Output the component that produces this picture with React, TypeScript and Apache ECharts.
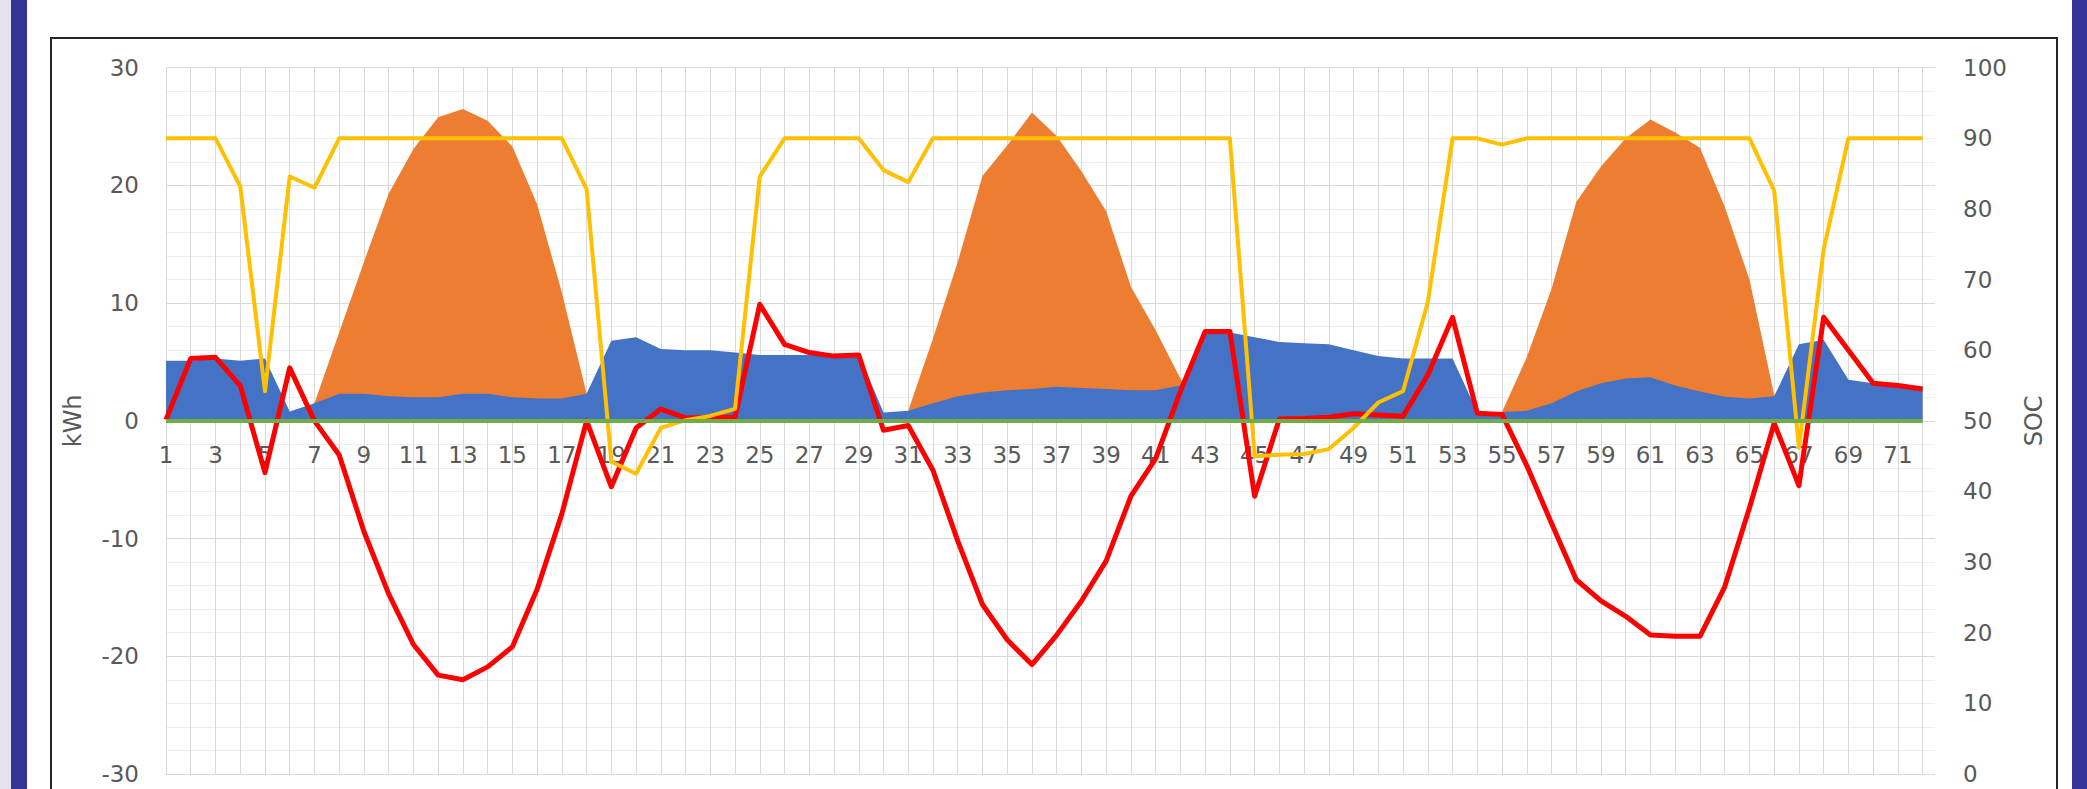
import React, { useEffect, useRef } from "react";
import * as echarts from "echarts";

// categories (hour index)
const hours = [
  1, 2, 3, 4, 5, 6, 7, 8, 9, 10,
  11, 12, 13, 14, 15, 16, 17, 18, 19, 20,
  21, 22, 23, 24, 25, 26, 27, 28, 29, 30,
  31, 32, 33, 34, 35, 36, 37, 38, 39, 40,
  41, 42, 43, 44, 45, 46, 47, 48, 49, 50,
  51, 52, 53, 54, 55, 56, 57, 58, 59, 60,
  61, 62, 63, 64, 65, 66, 67, 68, 69, 70,
  71, 72,
];

// blue area (kWh)
const load = [
  5.1, 5.1, 5.3, 5.1, 5.3, 0.8, 1.5, 2.3, 2.3, 2.1,
  2.0, 2.0, 2.3, 2.3, 2.0, 1.9, 1.9, 2.3, 6.8, 7.1,
  6.1, 6.0, 6.0, 5.8, 5.6, 5.6, 5.6, 5.7, 5.7, 0.7,
  0.85, 1.5, 2.1, 2.4, 2.6, 2.7, 2.9, 2.8, 2.7, 2.6,
  2.6, 3.0, 7.5, 7.5, 7.1, 6.7, 6.6, 6.5, 6.0, 5.5,
  5.3, 5.3, 5.3, 0.75, 0.75, 0.85, 1.5, 2.5, 3.2, 3.6,
  3.7, 3.0, 2.5, 2.05, 1.9, 2.1, 6.5, 6.9, 3.5, 3.2,
  3.1, 2.8,
];

// orange area (kWh)
const pv = [
  0, 0, 0, 0, 0, 0, 1.5, 7.5, 13.5, 19.3,
  23.1, 25.8, 26.5, 25.5, 23.3, 18.4, 10.9, 2.3, 0, 0,
  0, 0, 0, 0, 0, 0, 0, 0, 0, 0,
  0.85, 7.0, 13.5, 20.8, 23.4, 26.2, 24.2, 21.2, 17.8, 11.4,
  7.7, 3.6, 0, 0, 0, 0, 0, 0, 0, 0,
  0, 0, 0, 0, 0.75, 5.4, 11.2, 18.6, 21.6, 24.0,
  25.6, 24.5, 23.2, 18.2, 12.0, 2.2, 0, 0, 0, 0,
  0, 0,
];

// red line (kWh)
const net = [
  0.1, 5.3, 5.4, 3.0, -4.4, 4.5, 0, -2.9, -9.4, -14.7,
  -19.0, -21.6, -22.0, -20.9, -19.2, -14.3, -7.9, 0, -5.6, -0.6,
  1.0, 0.25, 0.3, 0.3, 9.9, 6.5, 5.8, 5.5, 5.6, -0.8,
  -0.4, -4.2, -10.2, -15.6, -18.6, -20.7, -18.2, -15.3, -11.9, -6.4,
  -3.2, 2.5, 7.6, 7.6, -6.4, 0.15, 0.2, 0.3, 0.6, 0.5,
  0.4, 3.9, 8.8, 0.65, 0.55, -3.8, -8.7, -13.5, -15.3, -16.6,
  -18.2, -18.3, -18.3, -14.1, -7.4, -0.2, -5.5, 8.8, 6.0, 3.2,
  3.0, 2.7,
];

// yellow line (SOC %)
const soc = [
  90, 90, 90, 83.2, 54.2, 84.6, 83.0, 90, 90, 90,
  90, 90, 90, 90, 90, 90, 90, 82.8, 44.2, 42.5,
  49.0, 50.1, 50.7, 51.7, 84.6, 90, 90, 90, 90, 85.5,
  83.8, 90, 90, 90, 90, 90, 90, 90, 90, 90,
  90, 90, 90, 90, 45.0, 45.2, 45.3, 46.0, 49.0, 52.6,
  54.2, 66.8, 90, 90, 89.1, 90, 90, 90, 90, 90,
  90, 90, 90, 90, 90, 82.6, 46.2, 74.3, 90, 90,
  90, 90,
];

const leftTicks = { min: -30, max: 30, step: 10 };
const rightTicks = { min: 0, max: 100, step: 10 };

const FONT = "DejaVu Sans";
const GRAY = "#595959";

const W = 2087;
const H = 789;
const GRID_LEFT = 166;
const GRID_TOP = 67.7;
const GRID_RIGHT = 152;
const GRID_BOTTOM = 15;

export default function App() {
  const ref = useRef<HTMLDivElement>(null);

  useEffect(() => {
    if (!ref.current) return;
    const chart = echarts.init(ref.current, undefined, { renderer: "svg" });
    const pair = (arr: number[]) => hours.map((h, i) => [h, arr[i]]);

    // place the category axis on the kWh zero line
    const plotH = H - GRID_TOP - GRID_BOTTOM;
    const zeroFromBottom = ((0 - leftTicks.min) / (leftTicks.max - leftTicks.min)) * plotH;

    chart.setOption({
      animation: false,
      backgroundColor: "#ffffff",
      graphic: [
        { type: "rect", shape: { x: 0, y: 0, width: 11, height: H }, style: { fill: "#E4E4F1" }, z: -10 },
        { type: "rect", shape: { x: 11, y: 0, width: 16, height: H }, style: { fill: "#343496" }, z: -10 },
        { type: "rect", shape: { x: 2072, y: 0, width: 15, height: H }, style: { fill: "#343496" }, z: -10 },
        { type: "rect", shape: { x: 51, y: 38, width: 2006, height: 800 }, style: { fill: "none", stroke: "#262626", lineWidth: 2 }, z: -10 },
      ],
      grid: {
        left: GRID_LEFT,
        top: GRID_TOP,
        right: GRID_RIGHT,
        bottom: GRID_BOTTOM,
        containLabel: false,
        outerBoundsMode: "none",
      },
      xAxis: {
        type: "value",
        min: hours[0],
        max: hours[hours.length - 1] + 0.5,
        interval: 1,
        offset: -zeroFromBottom,
        axisLine: { show: false, onZero: false },
        axisTick: { show: false },
        axisLabel: {
          color: GRAY,
          fontFamily: FONT,
          fontSize: 23,
          margin: 23,
          showMaxLabel: false,
          formatter: (v: number) => (Number.isInteger(v) && v % 2 === 1 ? String(v) : ""),
        },
        splitLine: { show: true, showMaxLine: false, lineStyle: { color: "#D9D9D9", width: 1 } },
      },
      yAxis: [
        {
          type: "value",
          min: leftTicks.min,
          max: leftTicks.max,
          interval: leftTicks.step,
          position: "left",
          name: "kWh",
          nameLocation: "middle",
          nameRotate: 90,
          nameGap: 81,
          nameTextStyle: { color: GRAY, fontFamily: FONT, fontSize: 24 },
          axisLine: { show: false, onZero: false },
          axisTick: { show: false },
          axisLabel: { color: GRAY, fontFamily: FONT, fontSize: 23, margin: 27 },
          splitLine: { show: true, lineStyle: { color: "#D9D9D9", width: 1 } },
          minorTick: { show: false, splitNumber: 5 },
          minorSplitLine: { show: true, lineStyle: { color: "#EDEDED", width: 1 } },
        },
        {
          type: "value",
          min: rightTicks.min,
          max: rightTicks.max,
          interval: rightTicks.step,
          position: "right",
          name: "SOC",
          nameLocation: "middle",
          nameRotate: 90,
          nameGap: 87,
          nameTextStyle: { color: GRAY, fontFamily: FONT, fontSize: 24 },
          axisLine: { show: false, onZero: false },
          axisTick: { show: false },
          axisLabel: { color: GRAY, fontFamily: FONT, fontSize: 23, margin: 28 },
          splitLine: { show: false },
        },
      ],
      series: [
        {
          name: "PV",
          type: "line",
          yAxisIndex: 0,
          data: pair(pv),
          symbol: "none",
          lineStyle: { width: 0 },
          areaStyle: { color: "#ED7D31", opacity: 1 },
          z: 1,
        },
        {
          name: "Load",
          type: "line",
          yAxisIndex: 0,
          data: pair(load),
          symbol: "none",
          lineStyle: { width: 0 },
          areaStyle: { color: "#4472C4", opacity: 1 },
          z: 2,
          markLine: {
            silent: true,
            symbol: "none",
            label: { show: false },
            lineStyle: { color: "#70AD47", width: 4, type: "solid" },
            data: [[{ coord: [hours[0], 0] }, { coord: [hours[hours.length - 1], 0] }]],
          },
        },
        {
          name: "Net",
          type: "line",
          yAxisIndex: 0,
          data: pair(net),
          symbol: "none",
          lineStyle: { color: "#FF0000", width: 5, join: "round" },
          z: 3,
        },
        {
          name: "SOC",
          type: "line",
          yAxisIndex: 1,
          data: pair(soc),
          symbol: "none",
          lineStyle: { color: "#FFC000", width: 4, join: "round" },
          z: 4,
        },
      ],
    });

    return () => chart.dispose();
  }, []);

  return (
    <div
      ref={ref}
      style={{ position: "absolute", left: 0, top: 0, width: W, height: H }}
    />
  );
}
